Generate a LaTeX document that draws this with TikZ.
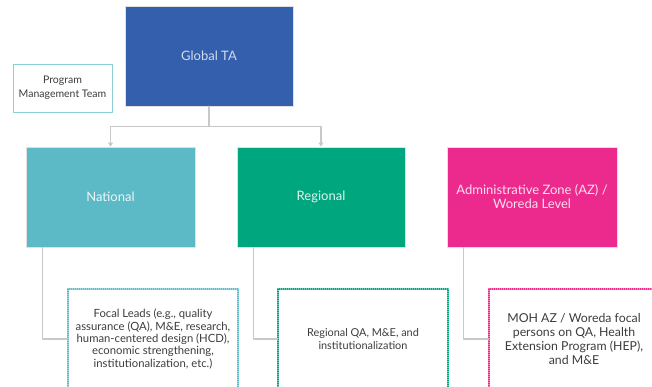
\documentclass[tikz,border=0pt]{standalone}
\usepackage{fontspec}
\setmainfont{Lato}
\usetikzlibrary{arrows.meta}
\usetikzlibrary{positioning}
\definecolor{taBlue}{HTML}{345FAD}
\definecolor{natTeal}{HTML}{5CBAC6}
\definecolor{regGreen}{HTML}{00A67E}
\definecolor{azPink}{HTML}{EC2A8D}
\definecolor{lineGrey}{HTML}{C8C8C8}
\definecolor{textGrey}{HTML}{3C3C3C}

\begin{document}
\begin{tikzpicture}[x=1pt,y=-1pt,line cap=round,line join=round,
    level/.style={draw=black!12,line width=0.8pt,minimum width=169pt,minimum height=100pt,
      inner sep=0pt,align=center,font=\fontsize{13}{14}\selectfont},
    detail/.style={dash pattern=on 0.8pt off 1.2pt,line width=1.2pt,minimum width=170pt,minimum height=100pt,
      inner sep=0pt,align=center,text=textGrey,font=\fontsize{11.3}{12.4}\selectfont},
    conn/.style={draw=lineGrey,line width=1.3pt},
    >={Triangle[width=5pt,length=4pt]}]
        \useasboundingbox (0,0) rectangle (652,387);
        % top level
        \node[level,fill=taBlue,text=white!78!taBlue,minimum width=168pt] (global) at (209,56) {Global TA};
        \node[draw=natTeal!70,line width=0.8pt,minimum width=99pt,minimum height=48pt,inner sep=0pt,
          align=center,text=textGrey,font=\fontsize{10.5}{14}\selectfont] (pmt) at (62.5,88) {Program\\Management Team};
        % levels
        \node[level,fill=natTeal,text=white!88!natTeal] (national) at (110.5,197) {National};
        \node[level,fill=regGreen,text=white!88!regGreen,minimum width=168pt] (regional) at (321,197) {Regional};
        \node[level,fill=azPink,text=white!85!azPink,minimum width=170pt] (az) at (532,197)
          {Administrative Zone (AZ) /\\Woreda Level};
        % details
        \node[detail,draw=natTeal] (natdet) at (153,339) {Focal Leads (e.g., quality\\assurance (QA), M\&E, research,\\
          human-centered design (HCD),\\economic strengthening,\\institutionalization, etc.)};
        \node[detail,draw=regGreen,font=\fontsize{10.9}{13}\selectfont] (regdet) at (363,339)
          {Regional QA, M\&E, and\\institutionalization};
        \node[detail,draw=azPink,font=\fontsize{12.3}{13.8}\selectfont] (azdet) at (574,339)
          {MOH AZ / Woreda focal\\persons on QA, Health\\Extension Program (HEP),\\and M\&E};
        % connectors
        \draw[conn,->] (global.south) -- ++(0,20) -| (national.north);
        \draw[conn,->] (global.south) -- ++(0,20) -| (regional.north);
        \draw[conn] ([xshift=17pt]national.south west) |- (natdet.west);
        \draw[conn] ([xshift=17pt]regional.south west) |- (regdet.west);
        \draw[conn] ([xshift=17pt]az.south west) |- (azdet.west);
      \end{tikzpicture}
\end{document}
